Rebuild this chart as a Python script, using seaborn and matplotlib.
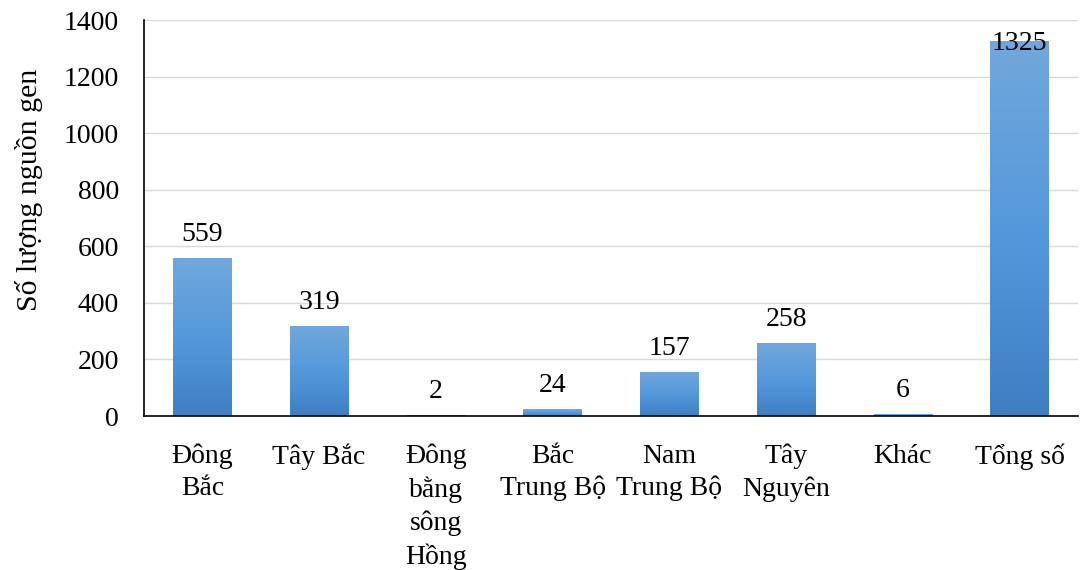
import matplotlib
matplotlib.use("Agg")
import matplotlib.pyplot as plt
import seaborn as sns
import numpy as np
import pandas as pd
from matplotlib.colors import LinearSegmentedColormap

categories = ["Đông\nBắc", "Tây Bắc", "Đông\nbằng\nsông\nHồng", "Bắc\nTrung Bộ",
              "Nam\nTrung Bộ", "Tây\nNguyên", "Khác", "Tổng số"]
values = [559, 319, 2, 24, 157, 258, 6, 1325]
yticks = [0, 200, 400, 600, 800, 1000, 1200, 1400]
ylabel = "Số lượng nguồn gen"

sns.set_theme(style="white")
plt.rcParams['font.family'] = ['Liberation Serif', 'DejaVu Serif']

FS = 20
df = pd.DataFrame({"cat": categories, "val": values})

fig = plt.figure(figsize=(10.8, 5.7), dpi=100)
ax = fig.add_axes([144/1080, 1 - 416/570, (1078-144)/1080, (416-20)/570])

sns.barplot(data=df, x="cat", y="val", ax=ax, color="#5599DC", width=0.5,
            saturation=1, edgecolor="none")

ax.set_ylim(0, 1400)
ax.set_xlim(-0.5, len(categories) - 0.5)
ax.set_yticks(yticks)
ax.set_yticklabels([str(t) for t in yticks], fontsize=FS, color="black")
ax.grid(axis="y", color="#D9D9D9", linewidth=1)
ax.set_axisbelow(True)

cmap = LinearSegmentedColormap.from_list("g", ["#3E7FC2", "#5599DC", "#72A7DB"])
grad = np.linspace(0, 1, 256).reshape(-1, 1)
for p in list(ax.patches):
    x0, y0 = p.get_x(), p.get_y()
    w, h = p.get_width(), p.get_height()
    if h <= 0:
        continue
    im = ax.imshow(grad, cmap=cmap, origin="lower", aspect="auto",
                   extent=[x0, x0 + w, y0, y0 + h], zorder=p.get_zorder() + 0.1)
    im.set_clip_path(p)
ax.set_xlim(-0.5, len(categories) - 0.5)
ax.set_ylim(0, 1400)

for i, v in enumerate(values):
    ax.text(i, min(v + 60, 1294), str(v), ha="center", va="baseline",
            fontsize=FS, color="black", zorder=5)

ax.set_xlabel("")
ax.set_ylabel(ylabel, fontsize=21.5, color="black")
ax.yaxis.set_label_coords(-0.108, 0.571)
ax.set_xticks(range(len(categories)))
ax.set_xticklabels(categories, fontsize=FS, linespacing=1.36, va="top", color="black")
ax.tick_params(axis="x", which="major", length=0, pad=20)
ax.set_xticks(np.arange(-0.5, len(categories) + 0.5, 1), minor=True)
ax.tick_params(axis="x", which="minor", length=8, width=1, color="black", direction="out")
ax.tick_params(axis="y", length=6, width=1, color="black", direction="out", pad=12)

sns.despine(ax=ax, top=True, right=True)
for s in ["left", "bottom"]:
    ax.spines[s].set_color("black")
    ax.spines[s].set_linewidth(1.2)

fig.savefig("out.png", dpi=100)
